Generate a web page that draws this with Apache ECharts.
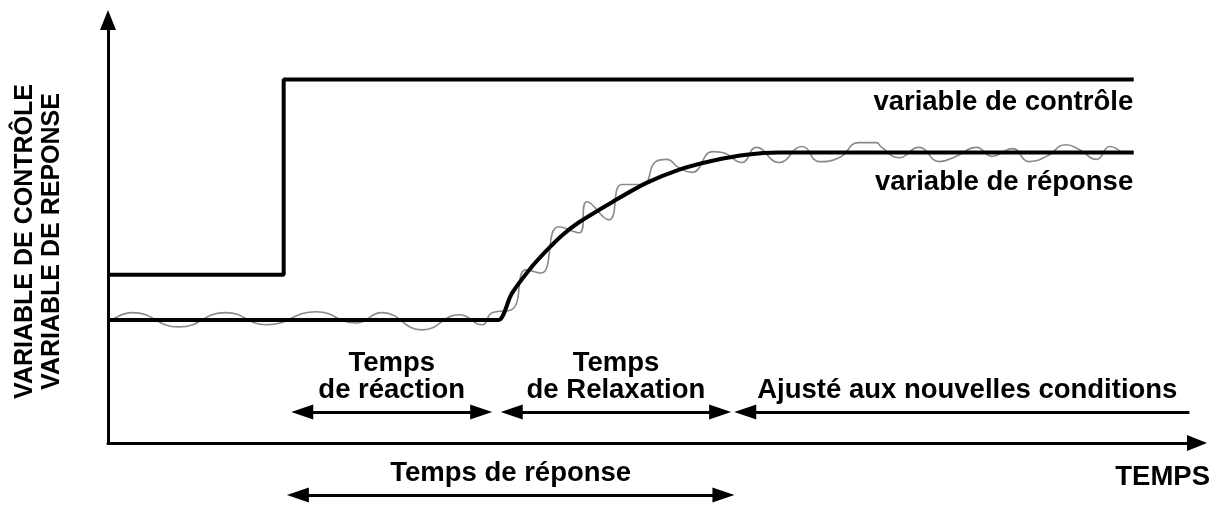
<!DOCTYPE html>
<html>
<head>
<meta charset="utf-8">
<script src="https://cdn.jsdelivr.net/npm/echarts@6/dist/echarts.min.js"></script>
<style>
html, body { margin: 0; padding: 0; background: #fff; }
#chart { width: 1215px; height: 506px; }
</style>
</head>
<body>
<div id="chart"></div>
<script>
// time runs 0..99.8, value 0..98 (abstract units, no ticks shown)
const controlData = [[0, 39.0], [16.1, 39.0], [16.1, 84.2], [94, 84.2]]
const responseData = [
  [0, 28.5], [34.8, 28.5], [35.8, 28.5], [37.0, 34.6], [38.6, 40.1], [40.2, 44.6], [41.6, 48.1],
  [43.2, 51.2], [46.2, 55.8], [49.3, 60.2], [52.3, 63.3], [55.4, 65.4], [58.5, 66.8],
  [61.5, 67.3], [94, 67.3]
]
const measuredData = [
  [0.4, 28.5], [2.2, 30.2], [6.5, 26.9], [10.8, 30.2], [14.5, 27.4], [19.1, 30.4],
  [22.7, 27.8], [25.1, 30.2], [28.8, 26.2], [32.2, 29.7], [34.3, 27.4], [35.2, 30.2],
  [37.0, 30.9], [38.3, 40.1], [39.7, 39.4], [41.3, 50.1], [43.2, 48.7], [43.9, 55.9],
  [45.9, 51.7], [47.1, 59.9], [49.0, 59.9], [50.2, 65.2], [51.2, 65.7], [52.3, 63.8],
  [53.5, 62.7], [55.4, 67.5], [56.3, 67.3], [58.1, 65.0], [59.4, 68.5], [61.5, 65.0],
  [63.6, 68.7], [65.2, 65.2], [67.0, 66.1], [68.8, 69.6], [70.4, 69.6], [70.9, 68.5],
  [72.5, 66.1], [74.3, 68.5], [76.2, 65.2], [77.7, 66.4], [79.6, 68.5], [81.0, 66.4],
  [82.9, 68.2], [84.4, 65.2], [86.0, 66.4], [87.8, 69.1], [89.0, 68.0], [90.6, 65.7],
  [91.8, 68.7], [92.9, 67.3]
]
// arrow tip positions on the time axis
const reactionSpan = [16.8, 35.2]
const relaxationSpan = [36.0, 57.1]
const adjustedSpan = [57.4, 99.1]
const responseSpan = [16.4, 57.4]
const spanY = 7.2

const X_MAX = 99.8
const Y_MAX = 98
const HEAD = 1.0 // half an arrow head (11px) in time units, the triangle sits centred on the end point
const FONT = "'Liberation Sans', Arial, sans-serif"

const textStyle = {
  color: '#000', fontFamily: FONT, fontWeight: 'bold', fontSize: 27.5, lineHeight: 27,
  textBorderWidth: 0, opacity: 1
}

function span(range, y, text, heads) {
  return [
    { coord: [range[0] + (heads[0] === 'none' ? 0 : HEAD), y], symbol: heads[0], label: { formatter: text } },
    { coord: [range[1] - (heads[1] === 'none' ? 0 : HEAD), y], symbol: heads[1] }
  ]
}

const markLineBase = {
  silent: true,
  animation: false,
  symbolSize: [15, 22],
  lineStyle: { color: '#000', width: 3, type: 'solid' },
  label: Object.assign({ show: true, position: 'insideMiddleTop', distance: 8 }, textStyle)
}

const chart = echarts.init(document.getElementById('chart'))
chart.setOption({
  animation: false,
  grid: [
    { left: 108, right: 18, top: 20, bottom: 63 },
    { left: 108, right: 18, top: 485, height: 20 }
  ],
  xAxis: [{
    type: 'value', min: 0, max: X_MAX,
    name: 'TEMPS', nameLocation: 'end', nameGap: 13,
    nameTextStyle: Object.assign({}, textStyle, { align: 'right', verticalAlign: 'top', padding: [21, 0, 0, 0] }),
    axisLine: { lineStyle: { color: '#000', width: 3 }, symbol: ['none', 'triangle'], symbolSize: [16, 20] },
    axisTick: { show: false }, axisLabel: { show: false }, splitLine: { show: false }
  }, {
    type: 'value', min: 0, max: X_MAX, gridIndex: 1, show: false
  }],
  yAxis: [{
    type: 'value', min: 0, max: Y_MAX,
    name: 'VARIABLE DE CONTRÔLE\nVARIABLE DE REPONSE',
    nameLocation: 'middle', nameRotate: 90, nameGap: 42,
    nameTextStyle: Object.assign({}, textStyle, { fontSize: 25, padding: [0, 20, 0, 0] }),
    axisLine: { lineStyle: { color: '#000', width: 3 }, symbol: ['none', 'triangle'], symbolSize: [16, 20] },
    axisTick: { show: false }, axisLabel: { show: false }, splitLine: { show: false }
  }, {
    type: 'value', min: 0, max: 1, gridIndex: 1, show: false
  }],
  series: [
    {
      type: 'line', data: measuredData, smooth: 0.5, showSymbol: false, silent: true, z: 1,
      lineStyle: { color: '#8a8a8a', width: 1.6 }
    },
    {
      type: 'line', data: controlData, showSymbol: false, silent: true, z: 2,
      lineStyle: { color: '#000', width: 4 }
    },
    {
      type: 'line', data: responseData, smooth: 0.3, showSymbol: false, silent: true, z: 2,
      lineStyle: { color: '#000', width: 4, join: 'round' }
    },
    {
      type: 'scatter', silent: true, symbolSize: 1, z: 3,
      itemStyle: { color: 'rgba(255,255,255,0)' },
      label: Object.assign({ show: true, position: 'left', distance: 0, verticalAlign: 'middle' }, textStyle),
      data: [
        { value: controlData[controlData.length - 1], label: { formatter: 'variable de contrôle', offset: [0, 23], color: '#000' } },
        { value: responseData[responseData.length - 1], label: { formatter: 'variable de réponse', offset: [0, 30], color: '#000' } }
      ]
    },
    {
      type: 'line', data: [], silent: true,
      markLine: Object.assign({}, markLineBase, {
        data: [
          span(reactionSpan, spanY, 'Temps\nde réaction', ['triangle', 'triangle']),
          span(relaxationSpan, spanY, 'Temps\nde Relaxation', ['triangle', 'triangle']),
          span(adjustedSpan, spanY, 'Ajusté aux nouvelles conditions', ['triangle', 'none'])
        ]
      })
    },
    {
      type: 'line', data: [], silent: true, xAxisIndex: 1, yAxisIndex: 1,
      markLine: Object.assign({}, markLineBase, {
        data: [span(responseSpan, 0.5, 'Temps de réponse', ['triangle', 'triangle'])]
      })
    }
  ]
})
</script>
</body>
</html>
